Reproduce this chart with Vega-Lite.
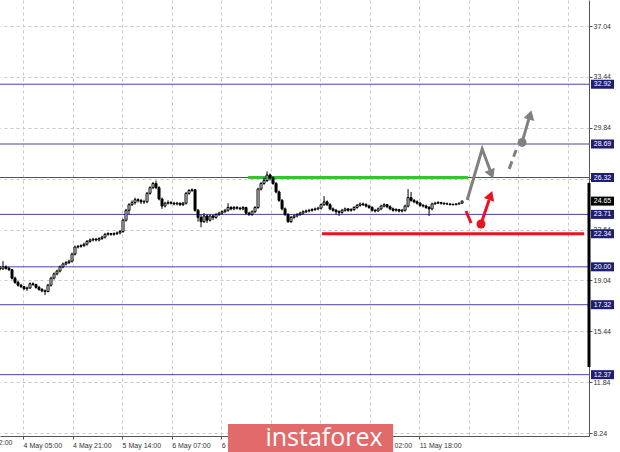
{
"$schema":"https://vega.github.io/schema/vega-lite/v6.json",
"width":589,"height":436,
"autosize":{"type":"none"},
"padding":{"left":0,"top":0,"right":31,"bottom":16},
"background":"white",
"config":{"view":{"stroke":null},"scale":{"continuousPadding":0},"axis":{"labelFont":"Liberation Sans","labelFontSize":7,"labelColor":"#333333","domainColor":"#555555","tickColor":"#555555","tickSize":3,"labelPadding":1,"title":null,"grid":true,"gridColor":"#c9c9c9","gridDash":[3,3],"labelOverlap":false,"labelFlush":false,"labelBound":false}},
"datasets":{
"levels":[{"v":32.92},{"v":28.69},{"v":26.32},{"v":23.71},{"v":20.0},{"v":17.32},{"v":12.37}],
"tags":[{"v":32.92,"t":"32.92","k":"lvl"},{"v":28.69,"t":"28.69","k":"lvl"},{"v":26.32,"t":"26.32","k":"lvl"},{"v":24.65,"t":"24.65","k":"cur"},{"v":23.71,"t":"23.71","k":"lvl"},{"v":22.34,"t":"22.34","k":"lvl"},{"v":20.0,"t":"20.00","k":"lvl"},{"v":17.32,"t":"17.32","k":"lvl"},{"v":12.37,"t":"12.37","k":"lvl"}],
"segs":[{"x":82.7,"x2":156,"y":26.32,"k":"g"},{"x":107.3,"x2":194.7,"y":22.34,"k":"r"}],
"candles":[
{"i":0,"o":19.9,"h":20.05,"l":19.75,"c":19.85},{"i":1,"o":19.85,"h":20.4,"l":19.8,"c":20.0},{"i":2,"o":20.0,"h":20.1,"l":19.8,"c":19.9},{"i":3,"o":19.9,"h":20.0,"l":19.7,"c":19.8},{"i":4,"o":19.8,"h":19.85,"l":19.1,"c":19.2},{"i":5,"o":19.2,"h":19.3,"l":18.8,"c":18.9},{"i":6,"o":18.9,"h":19.0,"l":18.6,"c":18.7},{"i":7,"o":18.7,"h":18.8,"l":18.5,"c":18.6},{"i":8,"o":18.6,"h":18.65,"l":18.35,"c":18.45},{"i":9,"o":18.45,"h":18.6,"l":18.3,"c":18.5},
{"i":10,"o":18.5,"h":18.9,"l":18.45,"c":18.8},{"i":11,"o":18.8,"h":18.9,"l":18.65,"c":18.75},{"i":12,"o":18.75,"h":18.8,"l":18.45,"c":18.55},{"i":13,"o":18.55,"h":18.65,"l":18.3,"c":18.4},{"i":14,"o":18.4,"h":18.5,"l":18.2,"c":18.3},{"i":15,"o":18.3,"h":18.4,"l":18.0,"c":18.25},{"i":16,"o":18.25,"h":18.8,"l":18.2,"c":18.7},{"i":17,"o":18.7,"h":19.3,"l":18.6,"c":19.2},{"i":18,"o":19.2,"h":19.6,"l":19.1,"c":19.5},{"i":19,"o":19.5,"h":19.8,"l":19.4,"c":19.7},
{"i":20,"o":19.7,"h":20.1,"l":19.6,"c":20.0},{"i":21,"o":20.0,"h":20.3,"l":19.9,"c":20.2},{"i":22,"o":20.2,"h":20.4,"l":20.1,"c":20.3},{"i":23,"o":20.3,"h":20.5,"l":20.2,"c":20.4},{"i":24,"o":20.4,"h":21.0,"l":20.3,"c":20.9},{"i":25,"o":20.9,"h":21.5,"l":20.8,"c":21.4},{"i":26,"o":21.4,"h":21.55,"l":21.3,"c":21.45},{"i":27,"o":21.45,"h":21.6,"l":21.35,"c":21.5},{"i":28,"o":21.5,"h":21.7,"l":21.4,"c":21.6},{"i":29,"o":21.6,"h":21.9,"l":21.5,"c":21.8},
{"i":30,"o":21.8,"h":22.0,"l":21.7,"c":21.9},{"i":31,"o":21.9,"h":22.05,"l":21.8,"c":21.95},{"i":32,"o":21.95,"h":22.05,"l":21.8,"c":21.9},{"i":33,"o":21.9,"h":22.1,"l":21.8,"c":22.0},{"i":34,"o":22.0,"h":22.2,"l":21.9,"c":22.1},{"i":35,"o":22.1,"h":22.4,"l":22.0,"c":22.3},{"i":36,"o":22.3,"h":22.45,"l":22.2,"c":22.35},{"i":37,"o":22.35,"h":22.4,"l":22.2,"c":22.3},{"i":38,"o":22.3,"h":22.45,"l":22.2,"c":22.35},{"i":39,"o":22.35,"h":22.5,"l":22.25,"c":22.4},
{"i":40,"o":22.4,"h":22.6,"l":22.3,"c":22.5},{"i":41,"o":22.5,"h":23.4,"l":22.4,"c":23.3},{"i":42,"o":23.3,"h":24.1,"l":23.2,"c":24.0},{"i":43,"o":24.0,"h":24.5,"l":23.7,"c":24.4},{"i":44,"o":24.4,"h":24.7,"l":24.3,"c":24.55},{"i":45,"o":24.55,"h":24.9,"l":24.4,"c":24.75},{"i":46,"o":24.75,"h":24.85,"l":24.55,"c":24.7},{"i":47,"o":24.7,"h":24.8,"l":24.45,"c":24.6},{"i":48,"o":24.6,"h":24.75,"l":24.45,"c":24.6},{"i":49,"o":24.6,"h":25.3,"l":24.5,"c":25.2},
{"i":50,"o":25.2,"h":25.7,"l":25.1,"c":25.6},{"i":51,"o":25.6,"h":26.0,"l":25.5,"c":25.9},{"i":52,"o":25.9,"h":26.1,"l":25.5,"c":25.6},{"i":53,"o":25.6,"h":25.7,"l":24.7,"c":24.8},{"i":54,"o":24.8,"h":24.9,"l":24.1,"c":24.3},{"i":55,"o":24.3,"h":24.6,"l":24.2,"c":24.5},{"i":56,"o":24.5,"h":24.7,"l":24.4,"c":24.55},{"i":57,"o":24.55,"h":24.65,"l":24.4,"c":24.5},{"i":58,"o":24.5,"h":24.6,"l":24.35,"c":24.45},{"i":59,"o":24.45,"h":24.6,"l":24.35,"c":24.5},
{"i":60,"o":24.5,"h":24.55,"l":24.3,"c":24.4},{"i":61,"o":24.4,"h":24.6,"l":24.3,"c":24.5},{"i":62,"o":24.5,"h":25.3,"l":24.4,"c":25.2},{"i":63,"o":25.2,"h":25.5,"l":25.1,"c":25.4},{"i":64,"o":25.4,"h":25.55,"l":25.3,"c":25.45},{"i":65,"o":25.45,"h":25.5,"l":23.9,"c":24.0},{"i":66,"o":24.0,"h":24.1,"l":23.2,"c":23.5},{"i":67,"o":23.5,"h":23.7,"l":22.8,"c":23.2},{"i":68,"o":23.2,"h":23.8,"l":23.1,"c":23.6},{"i":69,"o":23.6,"h":23.7,"l":23.1,"c":23.3},
{"i":70,"o":23.3,"h":23.7,"l":23.2,"c":23.6},{"i":71,"o":23.6,"h":23.7,"l":23.3,"c":23.5},{"i":72,"o":23.5,"h":23.8,"l":23.4,"c":23.7},{"i":73,"o":23.7,"h":23.9,"l":23.6,"c":23.8},{"i":74,"o":23.8,"h":24.0,"l":23.7,"c":23.9},{"i":75,"o":23.9,"h":24.1,"l":23.8,"c":24.0},{"i":76,"o":24.0,"h":24.5,"l":23.9,"c":24.2},{"i":77,"o":24.2,"h":24.3,"l":24.0,"c":24.1},{"i":78,"o":24.1,"h":24.3,"l":24.0,"c":24.2},{"i":79,"o":24.2,"h":24.3,"l":24.05,"c":24.15},
{"i":80,"o":24.15,"h":24.25,"l":24.0,"c":24.1},{"i":81,"o":24.1,"h":24.3,"l":24.0,"c":24.2},{"i":82,"o":24.2,"h":24.25,"l":23.7,"c":23.8},{"i":83,"o":23.8,"h":23.9,"l":23.6,"c":23.7},{"i":84,"o":23.7,"h":24.0,"l":23.6,"c":23.9},{"i":85,"o":23.9,"h":24.3,"l":23.8,"c":24.2},{"i":86,"o":24.2,"h":25.6,"l":24.1,"c":25.5},{"i":87,"o":25.5,"h":26.0,"l":25.4,"c":25.9},{"i":88,"o":25.9,"h":26.3,"l":25.8,"c":26.1},{"i":89,"o":26.1,"h":26.75,"l":26.0,"c":26.5},
{"i":90,"o":26.5,"h":26.6,"l":26.1,"c":26.3},{"i":91,"o":26.3,"h":26.4,"l":25.8,"c":25.9},{"i":92,"o":25.9,"h":26.0,"l":25.2,"c":25.3},{"i":93,"o":25.3,"h":25.4,"l":24.6,"c":24.7},{"i":94,"o":24.7,"h":24.8,"l":24.0,"c":24.1},{"i":95,"o":24.1,"h":24.2,"l":23.6,"c":23.7},{"i":96,"o":23.7,"h":23.8,"l":23.1,"c":23.2},{"i":97,"o":23.2,"h":23.6,"l":23.1,"c":23.5},{"i":98,"o":23.5,"h":23.7,"l":23.4,"c":23.6},{"i":99,"o":23.6,"h":23.8,"l":23.5,"c":23.7},
{"i":100,"o":23.7,"h":23.9,"l":23.6,"c":23.8},{"i":101,"o":23.8,"h":24.0,"l":23.7,"c":23.9},{"i":102,"o":23.9,"h":24.05,"l":23.8,"c":23.95},{"i":103,"o":23.95,"h":24.1,"l":23.85,"c":24.0},{"i":104,"o":24.0,"h":24.15,"l":23.9,"c":24.05},{"i":105,"o":24.05,"h":24.2,"l":23.95,"c":24.1},{"i":106,"o":24.1,"h":24.25,"l":24.0,"c":24.15},{"i":107,"o":24.15,"h":24.5,"l":24.05,"c":24.4},{"i":108,"o":24.4,"h":25.0,"l":24.3,"c":24.6},{"i":109,"o":24.6,"h":24.7,"l":24.3,"c":24.4},
{"i":110,"o":24.4,"h":24.5,"l":24.0,"c":24.1},{"i":111,"o":24.1,"h":24.2,"l":23.9,"c":24.0},{"i":112,"o":24.0,"h":24.1,"l":23.7,"c":23.9},{"i":113,"o":23.9,"h":24.0,"l":23.6,"c":23.85},{"i":114,"o":23.85,"h":24.1,"l":23.75,"c":24.0},{"i":115,"o":24.0,"h":24.2,"l":23.9,"c":24.1},{"i":116,"o":24.1,"h":24.15,"l":23.9,"c":24.0},{"i":117,"o":24.0,"h":24.15,"l":23.9,"c":24.05},{"i":118,"o":24.05,"h":24.3,"l":23.95,"c":24.2},{"i":119,"o":24.2,"h":24.45,"l":24.1,"c":24.35},
{"i":120,"o":24.35,"h":24.55,"l":24.25,"c":24.45},{"i":121,"o":24.45,"h":24.55,"l":24.3,"c":24.4},{"i":122,"o":24.4,"h":24.5,"l":24.2,"c":24.3},{"i":123,"o":24.3,"h":24.4,"l":24.1,"c":24.2},{"i":124,"o":24.2,"h":24.3,"l":23.9,"c":24.0},{"i":125,"o":24.0,"h":24.1,"l":23.85,"c":23.95},{"i":126,"o":23.95,"h":24.2,"l":23.9,"c":24.1},{"i":127,"o":24.1,"h":24.4,"l":24.0,"c":24.3},{"i":128,"o":24.3,"h":24.5,"l":24.2,"c":24.4},{"i":129,"o":24.4,"h":24.45,"l":24.15,"c":24.25},
{"i":130,"o":24.25,"h":24.35,"l":24.0,"c":24.1},{"i":131,"o":24.1,"h":24.2,"l":23.9,"c":24.0},{"i":132,"o":24.0,"h":24.15,"l":23.9,"c":24.05},{"i":133,"o":24.05,"h":24.1,"l":23.85,"c":23.95},{"i":134,"o":23.95,"h":24.1,"l":23.85,"c":24.0},{"i":135,"o":24.0,"h":24.4,"l":23.9,"c":24.3},{"i":136,"o":24.3,"h":25.5,"l":24.2,"c":24.9},{"i":137,"o":24.9,"h":25.3,"l":24.6,"c":24.7},{"i":138,"o":24.7,"h":24.8,"l":24.5,"c":24.6},{"i":139,"o":24.6,"h":24.7,"l":24.4,"c":24.5},
{"i":140,"o":24.5,"h":24.6,"l":24.25,"c":24.35},{"i":141,"o":24.35,"h":24.45,"l":24.2,"c":24.3},{"i":142,"o":24.3,"h":24.4,"l":24.1,"c":24.2},{"i":143,"o":24.2,"h":24.3,"l":23.6,"c":24.1},{"i":144,"o":24.1,"h":24.55,"l":24.0,"c":24.45},{"i":145,"o":24.45,"h":24.6,"l":24.4,"c":24.5},{"i":146,"o":24.5,"h":24.65,"l":24.45,"c":24.55},{"i":147,"o":24.55,"h":24.6,"l":24.4,"c":24.5},{"i":148,"o":24.5,"h":24.55,"l":24.4,"c":24.45},{"i":149,"o":24.45,"h":24.55,"l":24.4,"c":24.45},
{"i":150,"o":24.45,"h":24.5,"l":24.35,"c":24.4},{"i":151,"o":24.4,"h":24.5,"l":24.35,"c":24.4},{"i":152,"o":24.4,"h":24.5,"l":24.35,"c":24.45},{"i":153,"o":24.45,"h":24.55,"l":24.4,"c":24.5},{"i":154,"o":24.5,"h":24.7,"l":24.45,"c":24.65}
],
"grayline":[{"o":1,"x":155.7,"y":24.73},{"o":2,"x":160.7,"y":28.34},{"o":3,"x":163.3,"y":26.85}],
"graydash":[{"o":1,"x":169.7,"y":26.93},{"o":2,"x":172,"y":28.27}],
"grayup":[{"o":1,"x":174,"y":28.8},{"o":2,"x":176.3,"y":30.5}],
"redline":[{"o":1,"x":160.3,"y":23.03},{"o":2,"x":163,"y":24.73}],
"reddash":[{"o":1,"x":155.3,"y":23.95},{"o":2,"x":157,"y":23.1}],
"dots":[{"x":174,"y":28.8,"k":"g"},{"x":160.3,"y":23.03,"k":"r"}],
"heads":[{"x":163.8,"y":26.55,"k":"gd"},{"x":176.7,"y":30.75,"k":"gu"},{"x":163.5,"y":25.05,"k":"ru"}],
"edge":[{"y":25.94,"y2":12.91}],
"logo":[{"x":76,"x2":131,"y":8.88,"y2":6.9}],
"logotext":[{"x":108,"y":7.9,"t":"instaforex"}],
"lefttick":[{"x":-8.7,"y":7.5,"t":"3 May 12:00"}]
},
"layer":[
{"data":{"name":"levels"},"mark":{"type":"rule","color":"#4444a6","strokeWidth":1},
 "encoding":{"y":{"field":"v","type":"quantitative","scale":{"domain":[8.03,38.88],"nice":false,"zero":false,"padding":0},
  "axis":{"orient":"right","title":null,"values":[37.04,35.24,33.44,31.64,29.84,28.04,26.24,24.44,22.64,20.84,19.04,17.24,15.44,13.64,11.84,10.04,8.24],"format":".2f","labelAlign":"left","labelBaseline":"middle"}}}},
{"data":{"name":"segs"},"mark":{"type":"rule","strokeWidth":3},
 "encoding":{"x":{"field":"x","type":"quantitative","scale":{"domain":[0,196.3],"nice":false,"zero":false,"padding":0},
  "axis":{"orient":"bottom","title":null,"values":[7.7,15.95,24.2,32.45,40.7,48.95,57.2,65.45,73.7,81.95,90.2,98.45,106.7,114.95,123.2,131.45,139.7,147.95,156.2,164.45,172.7,180.95,189.2],
   "labelAlign":"left","labelPadding":2,
   "tickOpacity":{"condition":{"test":"indexof([7.7,24.2,40.7,57.2,73.7,90.2,106.7,123.2,139.7], datum.value) < 0","value":0},"value":1},
   "labelExpr":"indexof([7.7,24.2,40.7,57.2,73.7,123.2,139.7], datum.value) < 0 ? '' : ['4 May 05:00','4 May 21:00','5 May 14:00','6 May 07:00','6 May 23:00','11 May 02:00','11 May 18:00'][indexof([7.7,24.2,40.7,57.2,73.7,123.2,139.7], datum.value)]"}},
  "x2":{"field":"x2"},"y":{"field":"y","type":"quantitative"},
  "color":{"field":"k","type":"nominal","scale":{"domain":["g","r"],"range":["#35c335","#e8141e"]},"legend":null}}},
{"data":{"name":"candles"},"mark":{"type":"rule","color":"black","strokeWidth":1},
 "encoding":{"x":{"field":"i","type":"quantitative"},"y":{"field":"l","type":"quantitative"},"y2":{"field":"h"}}},
{"data":{"name":"candles"},"mark":{"type":"bar","width":2,"stroke":"black","strokeWidth":1},
 "encoding":{"x":{"field":"i","type":"quantitative"},"y":{"field":"o","type":"quantitative"},"y2":{"field":"c"},
  "fill":{"condition":{"test":"datum.c >= datum.o","value":"white"},"value":"black"}}},
{"data":{"name":"grayline"},"mark":{"type":"line","color":"#808080","strokeWidth":3},
 "encoding":{"x":{"field":"x","type":"quantitative"},"y":{"field":"y","type":"quantitative"},"order":{"field":"o"}}},
{"data":{"name":"graydash"},"mark":{"type":"line","color":"#808080","strokeWidth":3,"strokeDash":[8,5]},
 "encoding":{"x":{"field":"x","type":"quantitative"},"y":{"field":"y","type":"quantitative"},"order":{"field":"o"}}},
{"data":{"name":"grayup"},"mark":{"type":"line","color":"#808080","strokeWidth":3},
 "encoding":{"x":{"field":"x","type":"quantitative"},"y":{"field":"y","type":"quantitative"},"order":{"field":"o"}}},
{"data":{"name":"redline"},"mark":{"type":"line","color":"#e8141e","strokeWidth":3},
 "encoding":{"x":{"field":"x","type":"quantitative"},"y":{"field":"y","type":"quantitative"},"order":{"field":"o"}}},
{"data":{"name":"reddash"},"mark":{"type":"line","color":"#e8141e","strokeWidth":3},
 "encoding":{"x":{"field":"x","type":"quantitative"},"y":{"field":"y","type":"quantitative"},"order":{"field":"o"}}},
{"data":{"name":"dots"},"mark":{"type":"point","filled":true,"opacity":1,"size":80},
 "encoding":{"x":{"field":"x","type":"quantitative"},"y":{"field":"y","type":"quantitative"},
  "fill":{"condition":{"test":"datum.k == 'g'","value":"#808080"},"value":"#e8141e"}}},
{"data":{"name":"heads"},"transform":[{"filter":"datum.k == 'gd'"}],"mark":{"type":"point","shape":"triangle-up","filled":true,"opacity":1,"size":120,"angle":157,"color":"#808080"},
 "encoding":{"x":{"field":"x","type":"quantitative"},"y":{"field":"y","type":"quantitative"}}},
{"data":{"name":"heads"},"transform":[{"filter":"datum.k == 'gu'"}],"mark":{"type":"point","shape":"triangle-up","filled":true,"opacity":1,"size":120,"angle":15,"color":"#808080"},
 "encoding":{"x":{"field":"x","type":"quantitative"},"y":{"field":"y","type":"quantitative"}}},
{"data":{"name":"heads"},"transform":[{"filter":"datum.k == 'ru'"}],"mark":{"type":"point","shape":"triangle-up","filled":true,"opacity":1,"size":120,"angle":20,"color":"#e8141e"},
 "encoding":{"x":{"field":"x","type":"quantitative"},"y":{"field":"y","type":"quantitative"}}},
{"data":{"name":"edge"},"mark":{"type":"rule","color":"black","strokeWidth":3},
 "encoding":{"x":{"datum":196.3,"type":"quantitative"},"y":{"field":"y","type":"quantitative"},"y2":{"field":"y2"}}},
{"data":{"name":"tags"},"mark":{"type":"rect","xOffset":2,"x2Offset":25,"yOffset":-4.5,"y2Offset":4.5},
 "encoding":{"x":{"datum":196.3,"type":"quantitative"},"x2":{"datum":196.3},"y":{"field":"v","type":"quantitative"},"y2":{"field":"v"},
  "fill":{"condition":{"test":"datum.k == 'cur'","value":"#000000"},"value":"#1e1e72"}}},
{"data":{"name":"tags"},"mark":{"type":"text","dx":13.5,"align":"center","baseline":"middle","font":"Liberation Sans","fontSize":7,"color":"white"},
 "encoding":{"x":{"datum":196.3,"type":"quantitative"},"y":{"field":"v","type":"quantitative"},"text":{"field":"t"}}},
{"data":{"name":"lefttick"},"mark":{"type":"text","align":"left","baseline":"middle","font":"Liberation Sans","fontSize":7,"color":"#333333"},
 "encoding":{"x":{"field":"x","type":"quantitative"},"y":{"field":"y","type":"quantitative"},"text":{"field":"t"}}},
{"data":{"name":"logo"},"mark":{"type":"rect","color":"#e36a6a"},
 "encoding":{"x":{"field":"x","type":"quantitative"},"x2":{"field":"x2"},"y":{"field":"y","type":"quantitative"},"y2":{"field":"y2"}}},
{"data":{"name":"logotext"},"mark":{"type":"text","align":"center","baseline":"middle","font":"Open Sans","fontSize":25,"color":"white"},
 "encoding":{"x":{"field":"x","type":"quantitative"},"y":{"field":"y","type":"quantitative"},"text":{"field":"t"}}}
]
}
